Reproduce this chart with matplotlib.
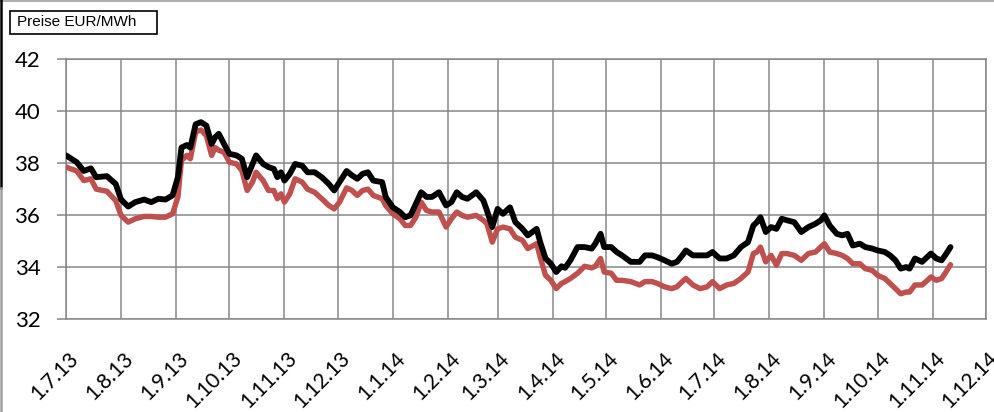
import pandas as pd
import matplotlib.pyplot as plt
from matplotlib.transforms import ScaledTranslation
from matplotlib.patches import Rectangle
from matplotlib.lines import Line2D

plt.rcParams['font.family'] = ['Lato', 'DejaVu Sans']

# Data (EUR/MWh)
dates = [
    '2013-07-01', '2013-07-07', '2013-07-11', '2013-07-15', '2013-07-18', '2013-07-24', '2013-07-29',
    '2013-08-01', '2013-08-05', '2013-08-09', '2013-08-14', '2013-08-18', '2013-08-22', '2013-08-26',
    '2013-08-30', '2013-09-02', '2013-09-04', '2013-09-07', '2013-09-09', '2013-09-12', '2013-09-15',
    '2013-09-18', '2013-09-21', '2013-09-23', '2013-09-25',
    '2013-09-28', '2013-10-01', '2013-10-05', '2013-10-08', '2013-10-11', '2013-10-14', '2013-10-16',
    '2013-10-20', '2013-10-23', '2013-10-26', '2013-10-28', '2013-10-30', '2013-11-01', '2013-11-04',
    '2013-11-07', '2013-11-11', '2013-11-14', '2013-11-18', '2013-11-22', '2013-11-26', '2013-11-29',
    '2013-12-02', '2013-12-06', '2013-12-09', '2013-12-12', '2013-12-15', '2013-12-18', '2013-12-21',
    '2013-12-26', '2013-12-28', '2014-01-01', '2014-01-05', '2014-01-08', '2014-01-11', '2014-01-14',
    '2014-01-17', '2014-01-20', '2014-01-23', '2014-01-27', '2014-01-31', '2014-02-03', '2014-02-06',
    '2014-02-09', '2014-02-12', '2014-02-17', '2014-02-21', '2014-02-23', '2014-02-26', '2014-03-01',
    '2014-03-04', '2014-03-08', '2014-03-11', '2014-03-15', '2014-03-18',
    '2014-03-23', '2014-03-25', '2014-03-28', '2014-03-31', '2014-04-03', '2014-04-06', '2014-04-08',
    '2014-04-11', '2014-04-15', '2014-04-19', '2014-04-23', '2014-04-25', '2014-04-28', '2014-04-30',
    '2014-05-04', '2014-05-07', '2014-05-10', '2014-05-15', '2014-05-20', '2014-05-23', '2014-05-27',
    '2014-05-30', '2014-06-03', '2014-06-07', '2014-06-10', '2014-06-13',
    '2014-06-15', '2014-06-19', '2014-06-23', '2014-06-27', '2014-06-30', '2014-07-04', '2014-07-08',
    '2014-07-12', '2014-07-16', '2014-07-20', '2014-07-23', '2014-07-25', '2014-07-27', '2014-07-30',
    '2014-08-02', '2014-08-05', '2014-08-08', '2014-08-11', '2014-08-15', '2014-08-19', '2014-08-23',
    '2014-08-27', '2014-08-30', '2014-09-01', '2014-09-04', '2014-09-08',
    '2014-09-11', '2014-09-14', '2014-09-17', '2014-09-21', '2014-09-24', '2014-09-28', '2014-10-01',
    '2014-10-05', '2014-10-08', '2014-10-11', '2014-10-14', '2014-10-17', '2014-10-19', '2014-10-22',
    '2014-10-26', '2014-10-29', '2014-10-31', '2014-11-03', '2014-11-06', '2014-11-08', '2014-11-11',
]

black_prices = [
    38.30, 38.04, 37.70, 37.80, 37.46, 37.50, 37.20,
    36.60, 36.33, 36.50, 36.60, 36.50, 36.63, 36.60,
    36.76, 37.46, 38.60, 38.70, 38.60, 39.50, 39.58,
    39.45, 38.74, 39.00, 39.13,
    38.74, 38.36, 38.30, 38.17, 37.46, 37.97, 38.30,
    37.97, 37.85, 37.78, 37.46, 37.65, 37.33, 37.59,
    37.97, 37.90, 37.65, 37.65, 37.46, 37.20, 36.95,
    37.27, 37.70, 37.53, 37.40, 37.59, 37.65, 37.33,
    37.27, 36.70, 36.30, 36.12, 35.92, 35.99, 36.43,
    36.88, 36.70, 36.70, 36.88, 36.37, 36.50, 36.88,
    36.70, 36.63, 36.88, 36.56, 36.18, 35.54, 36.24,
    36.05, 36.30, 35.73, 35.47, 35.22,
    35.47, 34.96, 34.33, 34.13, 33.81, 34.03, 33.97,
    34.26, 34.77, 34.77, 34.71, 34.90, 35.28, 34.77,
    34.77, 34.58, 34.45, 34.20, 34.20, 34.45, 34.45,
    34.38, 34.26, 34.13, 34.20, 34.45,
    34.64, 34.45, 34.45, 34.45, 34.58, 34.33, 34.33,
    34.45, 34.77, 34.96, 35.60, 35.73, 35.92, 35.35,
    35.54, 35.47, 35.86, 35.80, 35.73, 35.35, 35.54,
    35.67, 35.80, 35.99, 35.60, 35.28,
    35.22, 35.28, 34.83, 34.90, 34.77, 34.71, 34.64,
    34.58, 34.45, 34.26, 33.94, 34.00, 33.94, 34.33,
    34.20, 34.39, 34.52, 34.33, 34.26, 34.45, 34.77,
]

red_prices = [
    37.85, 37.70, 37.33, 37.40, 37.00, 36.92, 36.56,
    35.99, 35.73, 35.86, 35.95, 35.95, 35.92, 35.92,
    36.05, 36.70, 38.10, 38.30, 38.17, 39.20, 39.28,
    39.06, 38.30, 38.60, 38.50,
    38.42, 38.04, 37.97, 37.72, 36.95, 37.27, 37.65,
    37.33, 36.95, 36.95, 36.63, 36.82, 36.50, 36.82,
    37.40, 37.27, 37.00, 36.88, 36.63, 36.37, 36.24,
    36.50, 37.05, 36.95, 36.76, 36.95, 37.00, 36.76,
    36.63, 36.37, 36.05, 35.86, 35.60, 35.60, 35.92,
    36.50, 36.18, 36.12, 36.12, 35.54, 35.86, 36.12,
    35.99, 35.92, 35.99, 35.80, 35.67, 34.96, 35.47,
    35.54, 35.47, 35.15, 35.03, 34.71,
    34.90, 34.38, 33.68, 33.49, 33.17, 33.37, 33.44,
    33.56, 33.76, 34.03, 33.97, 34.03, 34.33, 33.81,
    33.76, 33.49, 33.49, 33.44, 33.31, 33.44, 33.44,
    33.37, 33.24, 33.17, 33.24, 33.44,
    33.56, 33.31, 33.17, 33.24, 33.44, 33.17, 33.31,
    33.37, 33.56, 33.81, 34.52, 34.58, 34.77, 34.20,
    34.45, 34.07, 34.52, 34.52, 34.45, 34.26, 34.52,
    34.58, 34.77, 34.90, 34.58, 34.52,
    34.45, 34.33, 34.13, 34.13, 33.94, 33.87, 33.68,
    33.56, 33.37, 33.17, 32.97, 33.04, 33.04, 33.31,
    33.31, 33.49, 33.62, 33.49, 33.56, 33.76, 34.09,
]

tick_labels = ['1.7.13', '1.8.13', '1.9.13', '1.10.13', '1.11.13', '1.12.13',
               '1.1.14', '1.2.14', '1.3.14', '1.4.14', '1.5.14', '1.6.14',
               '1.7.14', '1.8.14', '1.9.14', '1.10.14', '1.11.14', '1.12.14']
y_ticks = [32, 34, 36, 38, 40, 42]

W, H = 994, 412
fig = plt.figure(figsize=(W / 100, H / 100), dpi=100)
ax = fig.add_axes([66 / W, 1 - 319 / H, 920 / W, 259.7 / H])

x = pd.to_datetime(dates)
ax.plot(x, red_prices, color='#C0504D', lw=3.9, solid_joinstyle='round',
        solid_capstyle='round', zorder=3)
ax.plot(x, black_prices, color='black', lw=4.2, solid_joinstyle='round',
        solid_capstyle='round', zorder=4)

month_starts = pd.date_range('2013-07-01', '2014-12-01', freq='MS')
ax.set_xlim(month_starts[0], month_starts[-1])
ax.set_ylim(y_ticks[0], y_ticks[-1])
ax.set_xticks(month_starts)
ax.set_xticklabels(tick_labels, rotation=45, ha='right', va='top',
                   rotation_mode='anchor')
ax.set_yticks(y_ticks)

grid_c = '#878787'
ax.grid(True, color=grid_c, lw=1.1)
ax.set_axisbelow(True)
for s in ax.spines.values():
    s.set_color(grid_c)
    s.set_linewidth(1.1)

ax.tick_params(axis='y', length=6.5, width=1.1, color=grid_c, pad=12, labelsize=16)
ax.tick_params(axis='x', length=0, pad=21, labelsize=15)
shift = ScaledTranslation(2 / 100, 0, fig.dpi_scale_trans)
for lab in ax.get_xticklabels():
    lab.set_transform(lab.get_transform() + shift)

# unit label box
fig.add_artist(Rectangle((10 / W, 1 - 34 / H), 147 / W, 23 / H, transform=fig.transFigure,
                         fill=False, ec='black', lw=1.2))
fig.text(17 / W, 1 - 22.5 / H, 'Preise EUR/MWh', fontsize=11, va='center',
         family=['Liberation Sans', 'DejaVu Sans'])

# frame remnants of the original screenshot
fig.add_artist(Line2D([0, 1], [1 - 1 / H, 1 - 1 / H], transform=fig.transFigure,
                      color='#a0a0a0', lw=1.2))
fig.add_artist(Line2D([1 / W, 1 / W], [1, 1 - 188 / H], transform=fig.transFigure,
                      color='black', lw=1.8))
fig.add_artist(Line2D([1 / W, 1 / W], [1 - 188 / H, 0], transform=fig.transFigure,
                      color='#a0a0a0', lw=1.8))

fig.savefig('out.png', dpi=100)
